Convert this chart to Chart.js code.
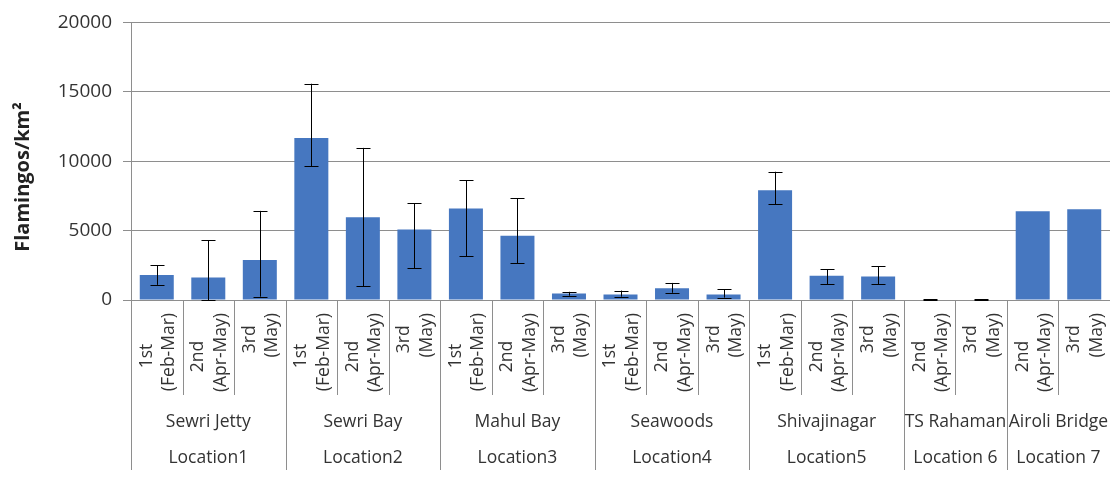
<!DOCTYPE html>
<html>
<head>
<meta charset="utf-8">
<title>Flamingos/km²</title>
<script src="https://cdn.jsdelivr.net/npm/chart.js@4.4.1/dist/chart.umd.min.js"></script>
<style>
    html, body { margin: 0; padding: 0; background: #ffffff; }
    #wrap { width: 1110px; height: 477px; }
</style>
</head>
<body>
<div id="wrap"><canvas id="flamingoChart"></canvas></div>
<script>
// Survey rounds (first level of the category axis)
const periods = [
    ['1st', '(Feb-Mar)'], ['2nd', '(Apr-May)'], ['3rd', '(May)'],
    ['1st', '(Feb-Mar)'], ['2nd', '(Apr-May)'], ['3rd', '(May)'],
    ['1st', '(Feb-Mar)'], ['2nd', '(Apr-May)'], ['3rd', '(May)'],
    ['1st', '(Feb-Mar)'], ['2nd', '(Apr-May)'], ['3rd', '(May)'],
    ['1st', '(Feb-Mar)'], ['2nd', '(Apr-May)'], ['3rd', '(May)'],
    ['2nd', '(Apr-May)'], ['3rd', '(May)'],
    ['2nd', '(Apr-May)'], ['3rd', '(May)']
];

// Sites and locations, with number of rounds per site
const sites = ['Sewri Jetty', 'Sewri Bay', 'Mahul Bay', 'Seawoods', 'Shivajinagar', 'TS Rahaman', 'Airoli Bridge'];
const locations = ['Location1', 'Location2', 'Location3', 'Location4', 'Location5', 'Location 6', 'Location 7'];
const roundsPerSite = [3, 3, 3, 3, 3, 2, 2];

// Density values and error bar ends
const density = [1810, 1620, 2890, 11680, 5970, 5080, 6590, 4630, 470, 400, 850, 400, 7900, 1740, 1690, 40, 30, 6390, 6540];
const errLow  = [1090, 0, 240, 9620, 990, 2280, 3170, 2640, 310, 240, 520, 170, 6890, 1130, 1130, 15, 10, null, null];
const errHigh = [2500, 4300, 6420, 15580, 10960, 6960, 8630, 7330, 590, 680, 1230, 780, 9240, 2210, 2430, 65, 50, null, null];

const yTicks = [0, 5000, 10000, 15000, 20000];

const gridColor = '#8e8e8e';
const textColor = '#333333';

// Error bars + multi-level category labels
const overlayPlugin = {
    id: 'overlay',
    afterDatasetsDraw(chart) {
        const ctx = chart.ctx;
        const x = chart.scales.x;
        const y = chart.scales.y;
        ctx.save();
        ctx.strokeStyle = '#000000';
        ctx.lineWidth = 1;
        density.forEach((v, i) => {
            if (errLow[i] === null) return;
            const cx = Math.round(x.getPixelForValue(i)) + 0.5;
            const yTop = y.getPixelForValue(errHigh[i]);
            const yBot = y.getPixelForValue(errLow[i]);
            ctx.beginPath();
            ctx.moveTo(cx, yTop);
            ctx.lineTo(cx, yBot);
            ctx.moveTo(cx - 7, Math.round(yTop) + 0.5);
            ctx.lineTo(cx + 7, Math.round(yTop) + 0.5);
            ctx.moveTo(cx - 7, Math.round(yBot) + 0.5);
            ctx.lineTo(cx + 7, Math.round(yBot) + 0.5);
            ctx.stroke();
        });
        ctx.restore();
    },
    afterDraw(chart) {
        const ctx = chart.ctx;
        const x = chart.scales.x;
        const area = chart.chartArea;
        const step = (x.getPixelForValue(1) - x.getPixelForValue(0));
        const edge = i => x.getPixelForValue(i) - step / 2;

        ctx.save();
        ctx.fillStyle = textColor;
        ctx.strokeStyle = gridColor;
        ctx.lineWidth = 1;

        // group starts
        const groupStart = [];
        let acc = 0;
        roundsPerSite.forEach(n => { groupStart.push(acc); acc += n; });

        // separators
        for (let i = 0; i < periods.length; i++) {
            const px = Math.round(edge(i)) + 0.5;
            const full = groupStart.includes(i);
            ctx.beginPath();
            ctx.moveTo(px, area.bottom);
            ctx.lineTo(px, full ? 470 : 395);
            ctx.stroke();
        }

        // round labels, rotated
        ctx.font = '17.5px "Open Sans"';
        ctx.textBaseline = 'middle';
        ctx.textAlign = 'center';
        periods.forEach((lines, i) => {
            const cx = x.getPixelForValue(i);
            const longest = Math.max(...lines.map(l => ctx.measureText(l).width));
            const cy = 313 + longest / 2;
            lines.forEach((l, k) => {
                ctx.save();
                ctx.translate(cx - 10 + k * 22.5, cy + (k === 0 ? 4 : 0));
                ctx.rotate(-Math.PI / 2);
                ctx.fillText(l, 0, 0);
                ctx.restore();
            });
        });

        // site and location labels
        groupStart.forEach((s, g) => {
            const mid = (edge(s) + edge(s + roundsPerSite[g])) / 2;
            ctx.fillText(sites[g], mid, 422);
            ctx.fillText(locations[g], mid, 458);
        });

        // axis title
        ctx.font = 'bold 20px "Open Sans"';
        ctx.fillStyle = '#222222';
        ctx.translate(23, 177);
        ctx.rotate(-Math.PI / 2);
        ctx.fillText('Flamingos/km²', 0, 0);
        ctx.restore();
    }
};

Chart.defaults.font.family = '"Open Sans", sans-serif';

const ctx = document.getElementById('flamingoChart').getContext('2d');
const flamingoChart = new Chart(ctx, {
    type: 'bar',
    data: {
        labels: periods.map(p => p.join(' ')),
        datasets: [{
            label: 'Flamingos/km²',
            data: density,
            backgroundColor: '#4677c0',
            borderWidth: 0,
            barPercentage: 0.66,
            categoryPercentage: 1
        }]
    },
    options: {
        responsive: true,
        maintainAspectRatio: false,
        animation: false,
        layout: { padding: { top: 16, right: 0, left: 0, bottom: 0 } },
        plugins: {
            legend: { display: false },
            tooltip: { enabled: false }
        },
        scales: {
            x: {
                offset: true,
                ticks: { display: false },
                grid: { display: false },
                border: { display: false },
                afterFit(scale) { scale.height = 177; }
            },
            y: {
                min: 0,
                max: 20000,
                afterBuildTicks(scale) {
                    scale.ticks = yTicks.map(v => ({ value: v }));
                },
                ticks: {
                    color: textColor,
                    padding: 11,
                    font: { size: 19 },
                    callback: value => String(value)
                },
                grid: {
                    color: gridColor,
                    tickLength: 8,
                    drawTicks: true
                },
                border: { display: true, color: gridColor },
                afterFit(scale) { scale.width = 131; }
            }
        }
    },
    plugins: [overlayPlugin]
});
</script>
</body>
</html>
